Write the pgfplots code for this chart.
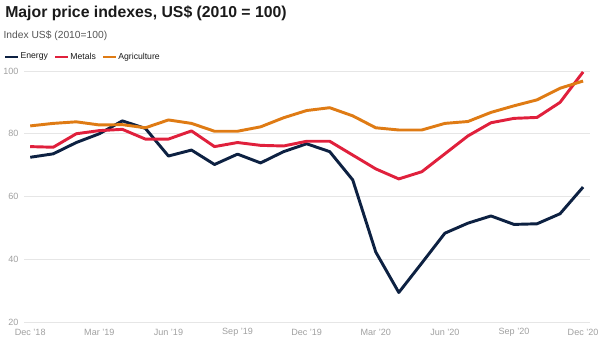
\documentclass[border=0pt]{standalone}
\usepackage{fontspec}
\setmainfont{Liberation Sans}
\usepackage{pgfplots}
\pgfplotsset{compat=1.18}
\definecolor{energy}{HTML}{0D2142}
\definecolor{metals}{HTML}{E0203C}
\definecolor{agri}{HTML}{DF7B14}
\definecolor{tickgray}{HTML}{A0A0A0}
\definecolor{gridgray}{HTML}{E6E6E6}
\definecolor{subgray}{HTML}{555555}
\definecolor{titleblack}{HTML}{1A1A1A}
\begin{document}
\begin{tikzpicture}
\path[use as bounding box] (0,0) rectangle (450pt,255.75pt);
\node[anchor=base west, inner sep=0pt, font=\bfseries\fontsize{11.85}{14}\selectfont, text=titleblack] at (3.75pt,242.8pt) {Major price indexes, US\$ (2010 = 100)};
\node[anchor=base west, inner sep=0pt, font=\fontsize{7.7}{10}\selectfont, text=subgray] at (2.5pt,226.5pt) {Index US\$ (2010=100)};
\begin{axis}[
  at={(18pt,14.25pt)}, anchor=south west,
  scale only axis, width=424.5pt, height=188.25pt,
  xmin=-0.27, xmax=24.3, ymin=20, ymax=100,
  axis line style={draw=none},
  major tick length=0pt,
  ymajorgrids, grid style={color=gridgray, line width=0.6pt},
  ytick={20,40,60,80,100},
  xtick={0,3,6,9,12,15,18,21,24},
  xticklabels={Dec '18, Mar '19, Jun '19, Sep '19, Dec '19, Mar '20, Jun '20, Sep '20, Dec '20},
  tick label style={font=\fontsize{6.8}{8}\selectfont, text=tickgray},
  /pgf/number format/assume math mode=true,
  xticklabel style={anchor=center, inner sep=0pt, yshift=-7.5pt},
  yticklabel style={anchor=east, inner sep=0pt, xshift=-4pt},
  clip=false,
  legend columns=-1,
  legend style={at={(axis description cs:-0.0353,1.0558)}, anchor=west, draw=none, fill=none, inner sep=0pt,
    font=\fontsize{6.5}{8}\selectfont, text=titleblack,
    /tikz/every even column/.append style={column sep=3.5pt},
    nodes={inner sep=1.1pt}},
  legend image code/.code={\draw[#1, line width=1.6pt] (0pt,0pt) -- (9.5pt,0pt);},
  every axis plot/.append style={line width=2.2pt, line join=round, mark=none},
]
\addplot[energy] coordinates {
(0,72.5)(1,73.6)(2,77.2)(3,80.0)(4,84.1)(5,81.7)(6,72.9)(7,74.8)(8,70.2)(9,73.5)(10,70.7)(11,74.3)
(12,76.8)(13,74.3)(14,65.3)(15,42.3)(16,29.4)(17,38.8)(18,48.3)(19,51.5)(20,53.8)(21,51.1)(22,51.3)(23,54.5)(24,63.0)};
\addlegendentry{Energy}
\addplot[metals] coordinates {
(0,75.9)(1,75.7)(2,80.0)(3,81.0)(4,81.4)(5,78.3)(6,78.3)(7,80.9)(8,75.9)(9,77.2)(10,76.3)(11,76.1)
(12,77.6)(13,77.6)(14,73.2)(15,68.8)(16,65.6)(17,67.9)(18,73.6)(19,79.3)(20,83.5)(21,84.9)(22,85.2)(23,90.0)(24,99.7)};
\addlegendentry{Metals}
\addplot[agri] coordinates {
(0,82.5)(1,83.3)(2,83.8)(3,82.8)(4,82.9)(5,81.9)(6,84.4)(7,83.3)(8,80.8)(9,80.8)(10,82.2)(11,85.1)
(12,87.4)(13,88.3)(14,85.7)(15,81.9)(16,81.2)(17,81.2)(18,83.3)(19,83.9)(20,86.8)(21,88.9)(22,90.8)(23,94.5)(24,96.8)};
\addlegendentry{Agriculture}
\end{axis}
\end{tikzpicture}
\end{document}
